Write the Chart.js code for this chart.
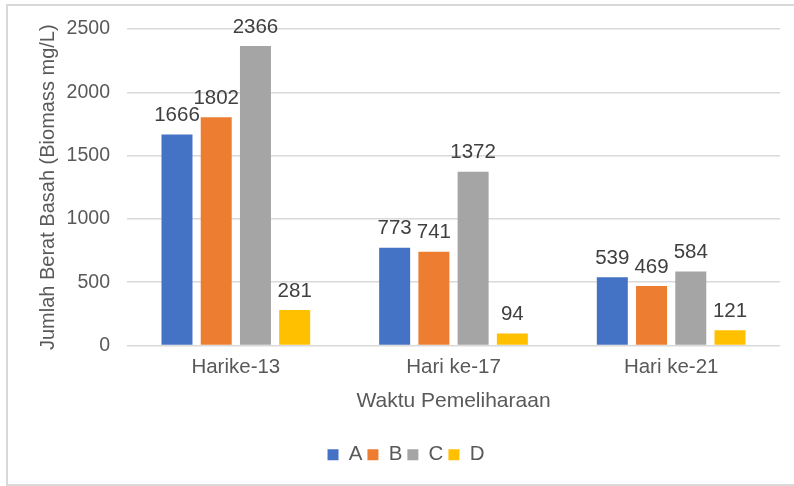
<!DOCTYPE html>
<html>
<head>
<meta charset="utf-8">
<script src="https://cdn.jsdelivr.net/npm/chart.js@4/dist/chart.umd.min.js"></script>
<style>
  html, body { margin: 0; padding: 0; background: #ffffff; }
  #wrap { position: relative; width: 794px; height: 486px; overflow: hidden; }
  #frame { position: absolute; left: 6px; top: 4px; width: 800px; height: 482px; border: 2px solid #D9D9D9; box-sizing: border-box; }
  canvas { position: absolute; left: 0; top: 0; }
</style>
</head>
<body>
<div id="wrap">
  <div id="frame"></div>
  <canvas id="c" width="794" height="486"></canvas>
</div>
<script>
const categories = ["Harike-13", "Hari ke-17", "Hari ke-21"];
const seriesNames = ["A", "B", "C", "D"];
const seriesA = [1666, 773, 539];
const seriesB = [1802, 741, 469];
const seriesC = [2366, 1372, 584];
const seriesD = [281, 94, 121];
const yTicks = [0, 500, 1000, 1500, 2000, 2500];
const colors = ["#4472C4", "#ED7D31", "#A5A5A5", "#FFC000"];
const yTitle = "Jumlah Berat Basah (Biomass mg/L)";
const xTitle = "Waktu Pemeliharaan";

const FONT = "'Liberation Sans', Arial, sans-serif";
const allSeries = [seriesA, seriesB, seriesC, seriesD];

const dataLabels = {
  id: 'dataLabels',
  afterDatasetsDraw(chart) {
    const ctx = chart.ctx;
    ctx.save();
    ctx.font = "20.5px " + FONT;
    ctx.fillStyle = "#404040";
    ctx.textAlign = "center";
    ctx.textBaseline = "middle";
    chart.data.datasets.forEach((ds, i) => {
      const meta = chart.getDatasetMeta(i);
      meta.data.forEach((el, j) => {
        ctx.fillText(String(ds.data[j]), el.x, el.y - 19);
      });
    });
    ctx.restore();
  }
};

new Chart(document.getElementById('c'), {
  type: 'bar',
  data: {
    labels: categories,
    datasets: allSeries.map((d, i) => ({
      label: seriesNames[i],
      data: d,
      backgroundColor: colors[i],
      borderWidth: 0,
      categoryPercentage: 0.721,
      barPercentage: 0.79
    }))
  },
  options: {
    responsive: false,
    animation: false,
    layout: { padding: { left: 32, right: 14, top: 29, bottom: 11 } },
    plugins: {
      legend: {
        position: 'bottom',
        labels: {
          boxWidth: 11,
          boxHeight: 11,
          padding: 5,
          color: "#595959",
          font: { family: FONT, size: 20.5 }
        }
      },
      tooltip: { enabled: false }
    },
    scales: {
      x: {
        grid: { display: false, drawTicks: false },
        border: { display: false },
        ticks: { color: "#595959", font: { family: FONT, size: 20.5 }, padding: 10 },
        title: {
          display: true, text: xTitle, color: "#595959",
          font: { family: FONT, size: 21 },
          padding: { top: 0, bottom: 26 }
        },
        afterFit(scale) { scale.height = 94; }
      },
      y: {
        min: 0, max: 2500,
        afterBuildTicks(scale) { scale.ticks = yTicks.map(v => ({ value: v })); },
        grid: { color: "#D9D9D9", lineWidth: 1.5, drawTicks: false },
        border: { display: false },
        ticks: {
          color: "#595959", font: { family: FONT, size: 19.5 }, padding: 17,
          callback: (v) => String(v)
        },
        title: {
          display: true, text: yTitle, color: "#595959",
          font: { family: FONT, size: 20 },
          padding: { top: 4, bottom: 4 }
        },
        afterFit(scale) { scale.width = 95; }
      }
    }
  },
  plugins: [dataLabels]
});
</script>
</body>
</html>
